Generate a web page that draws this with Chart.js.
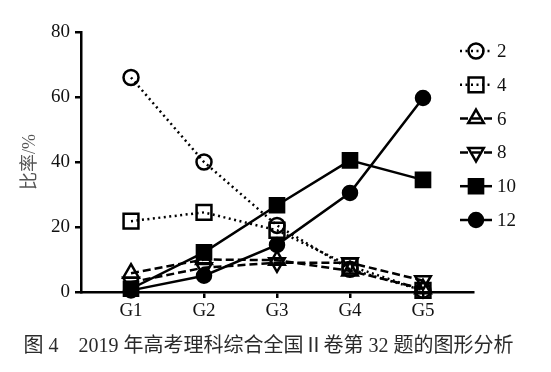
<!DOCTYPE html>
<html><head><meta charset="utf-8">
<script src="https://cdn.jsdelivr.net/npm/chart.js@4"></script>
<style>html,body{margin:0;padding:0;background:#fff}canvas{display:block}</style>
</head><body>
<canvas id="c" width="551" height="372"></canvas>
<script>
const categories = ['G1', 'G2', 'G3', 'G4', 'G5'];
const seriesNames = ['2', '4', '6', '8', '10', '12'];
const s2  = [66, 40, 20.5, 7, 0.5];
const s4  = [21.8, 24.5, 19, 8, 0.5];
const s6  = [5.8, 10, 9.8, 6.5, 1];
const s8  = [3, 7.5, 9, 9, 3.5];
const s10 = [1, 12.2, 26.7, 40.5, 34.5];
const s12 = [0.5, 5, 14.5, 30.5, 59.7];
const yTicks = [0, 20, 40, 60, 80];
const yTitle = '比率/%';
const caption = '图 4　2019 年高考理科综合全国Ⅱ卷第 32 题的图形分析';

const seriesValues = [s2, s4, s6, s8, s10, s12];
const dotted = [2, 3.5], dashed = [8, 4], solid = [];
const styles = [
  {pointStyle: 'circle',   radius: 7.5, rotation: 0,   dash: dotted, fill: 'rgba(0,0,0,0)'},
  {pointStyle: 'rect',     radius: 10.5, rotation: 0,  dash: dotted, fill: 'rgba(0,0,0,0)'},
  {pointStyle: 'triangle', radius: 9,   rotation: 0,   dash: dashed, fill: 'rgba(0,0,0,0)'},
  {pointStyle: 'triangle', radius: 9,   rotation: 180, dash: dashed, fill: 'rgba(0,0,0,0)'},
  {pointStyle: 'rect',     radius: 10,  rotation: 0,   dash: solid,  fill: '#000'},
  {pointStyle: 'circle',   radius: 7,   rotation: 0,   dash: solid,  fill: '#000'}
];

const datasets = seriesNames.map((name, i) => ({
  label: name,
  data: seriesValues[i].map((v, j) => ({x: j + 1, y: v})),
  borderColor: '#000',
  backgroundColor: '#000',
  borderWidth: 2.5,
  borderDash: styles[i].dash,
  borderCapStyle: 'butt',
  pointStyle: styles[i].pointStyle,
  pointRadius: styles[i].radius,
  pointRotation: styles[i].rotation,
  pointBackgroundColor: styles[i].fill,
  pointBorderColor: '#000',
  pointBorderWidth: 2.5,
  tension: 0,
  clip: false
}));

const serif = '"Liberation Serif", "DejaVu Serif", serif';

const legendPlugin = {
  id: 'sideLegend',
  afterDraw(chart) {
    const ctx = chart.ctx;
    chart.data.datasets.forEach((ds, i) => {
      const y = 51 + i * 33.8;
      ctx.save();
      ctx.strokeStyle = '#000';
      ctx.lineWidth = ds.borderWidth;
      ctx.setLineDash(ds.borderDash);
      ctx.beginPath();
      ctx.moveTo(460, y);
      ctx.lineTo(492, y);
      ctx.stroke();
      ctx.setLineDash([]);
      ctx.fillStyle = ds.pointBackgroundColor;
      ctx.strokeStyle = '#000';
      ctx.lineWidth = ds.pointBorderWidth;
      Chart.helpers.drawPoint(ctx, {
        pointStyle: ds.pointStyle, rotation: ds.pointRotation,
        radius: ds.pointRadius, borderWidth: ds.pointBorderWidth
      }, 476, y);
      ctx.fillStyle = '#111';
      ctx.font = '19px ' + serif;
      ctx.textAlign = 'left';
      ctx.textBaseline = 'middle';
      ctx.fillText(ds.label, 497, y + 1);
      ctx.restore();
    });
  }
};

const captionPlugin = {
  id: 'caption',
  afterDraw(chart) {
    const ctx = chart.ctx;
    ctx.save();
    ctx.fillStyle = '#2a2a2a';
    ctx.font = '20px "Liberation Serif", "Noto Sans CJK SC", serif';
    ctx.textAlign = 'center';
    ctx.textBaseline = 'middle';
    ctx.fillText(caption, 268.5, 347);
    ctx.restore();
  }
};

new Chart(document.getElementById('c'), {
  type: 'line',
  data: {datasets},
  plugins: [legendPlugin, captionPlugin],
  options: {
    responsive: false,
    animation: false,
    devicePixelRatio: 1,
    layout: {padding: {left: 0, right: 78, top: 32, bottom: 0}},
    plugins: {legend: {display: false}, tooltip: {enabled: false}, title: {display: false}},
    scales: {
      x: {
        type: 'linear',
        min: 0.315, max: 5.685,
        afterFit: s => { s.height = 80; },
        afterBuildTicks: s => { s.ticks = categories.map((c, i) => ({value: i + 1})); },
        ticks: {
          callback: v => categories[Math.round(v) - 1],
          color: '#111', font: {family: serif, size: 19}, padding: 2, maxRotation: 0, autoSkip: false
        },
        grid: {display: true, drawOnChartArea: false, drawTicks: true, tickLength: 6, color: '#000', lineWidth: 2.5},
        border: {display: true, color: '#000', width: 2.5}
      },
      y: {
        type: 'linear',
        min: 0, max: 80,
        afterFit: s => { s.width = 81; },
        afterBuildTicks: s => { s.ticks = yTicks.map(v => ({value: v})); },
        ticks: {color: '#111', font: {family: serif, size: 19}, padding: 5},
        grid: {display: true, drawOnChartArea: false, drawTicks: true, tickLength: 6, color: '#000', lineWidth: 2.5},
        border: {display: true, color: '#000', width: 2.5},
        title: {display: true, text: yTitle, color: '#555', font: {family: '"Liberation Serif", "Noto Sans CJK SC", serif', size: 18}, padding: {top: 19, bottom: 0}}
      }
    }
  }
});
</script>
</body></html>
